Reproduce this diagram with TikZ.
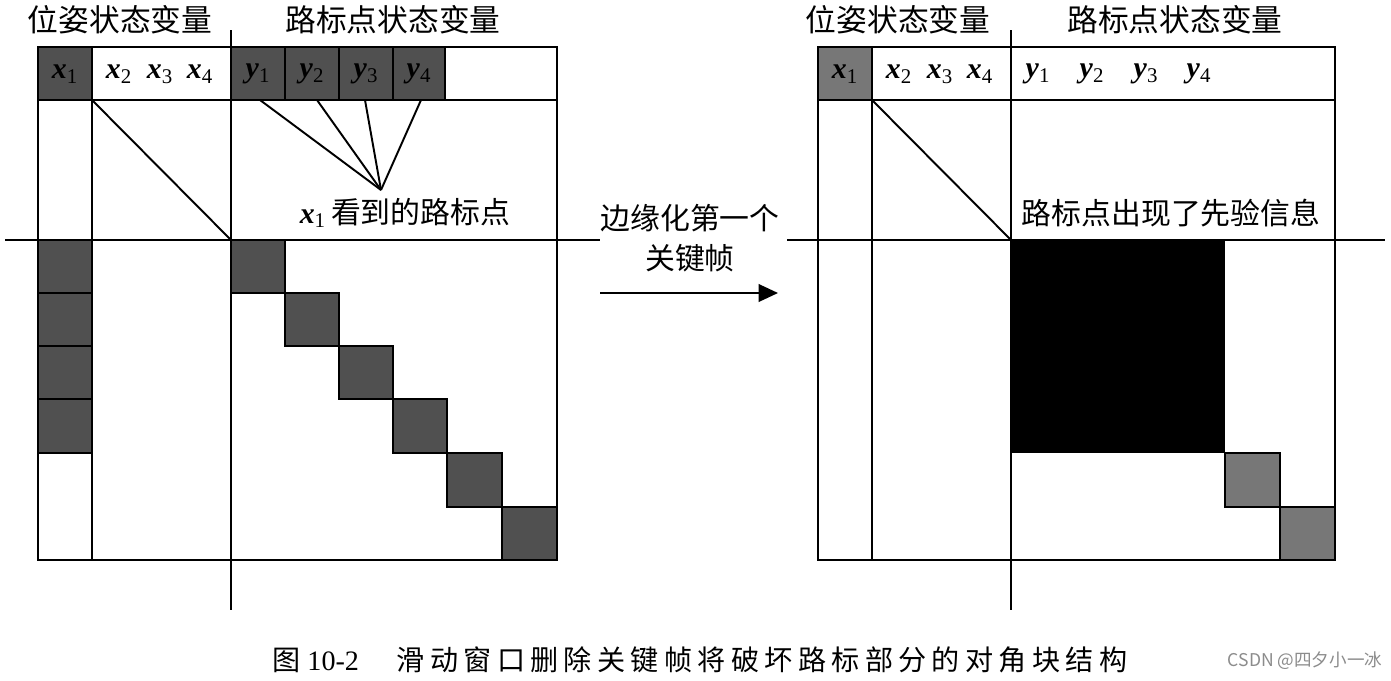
\documentclass[tikz,border=0pt]{standalone}
\usepackage{fontspec}
\setmainfont{Liberation Serif}
\newfontfamily\cjk{Noto Sans CJK SC}
\usepackage{xcolor}
\usepackage{tikz}
\usetikzlibrary{arrows.meta,positioning}
\definecolor{blkDark}{HTML}{505050}
\definecolor{blkMid}{HTML}{777777}
\definecolor{markGray}{HTML}{8C8C8C}
\newcommand{\sv}[2]{\textbf{\textit{#1}}\textsubscript{#2}}
\tikzset{
  grid/.style={line width=1.1pt, draw=black},
  cell/.style={fill=blkDark, draw=black, line width=1.5pt},
  cellmid/.style={fill=blkMid, draw=black, line width=1.5pt},
  head/.style={font=\cjk\fontsize{17.5}{20}\selectfont, inner sep=0pt},
  note/.style={font=\cjk\fontsize{17}{22.7}\selectfont, inner sep=0pt, align=center},
  var/.style={font=\fontsize{17}{20}\selectfont, inner sep=0pt},
  capline/.style={font=\fontsize{16}{20}\selectfont, inner sep=0pt},
  arrow/.style={-{Triangle[length=11pt,width=10pt]}, line width=1.1pt}
}

\begin{document}
\begin{tikzpicture}[x=0.02cm, y=-0.02cm]
\fill[white] (0,0) rectangle (1391,680);
\useasboundingbox (0,0) rectangle (1391,680);
% left panel: before marginalisation
\node[head] (hpose) at (120,20) {位姿状态变量};
\node[head] (hland) at (393,20) {路标点状态变量};
\draw[cell] (38,47) rectangle (92,100);
\draw[cell] (231,47) rectangle (285,100);
\draw[cell] (285,47) rectangle (339,100);
\draw[cell] (339,47) rectangle (393,100);
\draw[cell] (393,47) rectangle (445,100);
\draw[cell] (38,240) rectangle (92,293);
\draw[cell] (38,293) rectangle (92,346);
\draw[cell] (38,346) rectangle (92,399);
\draw[cell] (38,399) rectangle (92,453);
\draw[cell] (231,240) rectangle (285,293);
\draw[cell] (285,293) rectangle (339,346);
\draw[cell] (339,346) rectangle (393,399);
\draw[cell] (393,399) rectangle (447,453);
\draw[cell] (447,453) rectangle (502,507);
\draw[cell] (502,507) rectangle (557,560);
\draw[grid] (38,47) rectangle (557,560);
\draw[grid] (38,100) -- (557,100);
\draw[grid] (92,47) -- (92,560);
\draw[grid] (231,30) -- (231,610);
\draw[grid] (5,240) -- (600,240);
\draw[grid] (92,100) -- (231,240);
\node[var] (x1) at (65,74) {\sv{x}{1}};
\node[var] (x2) at (119,74) {\sv{x}{2}};
\node[var] (x3) at (160,74) {\sv{x}{3}};
\node[var] (x4) at (200,74) {\sv{x}{4}};
\node[var] (y1) at (258,74) {\sv{y}{1}};
\node[var] (y2) at (312,74) {\sv{y}{2}};
\node[var] (y3) at (366,74) {\sv{y}{3}};
\node[var] (y4) at (419,74) {\sv{y}{4}};
\coordinate (s1) at (260,100);
\coordinate (s2) at (317,100);
\coordinate (s3) at (365,100);
\coordinate (s4) at (421,100);
\coordinate (meet) at (381,190);
\draw[grid] (s1) -- (meet);
\draw[grid] (s2) -- (meet);
\draw[grid] (s3) -- (meet);
\draw[grid] (s4) -- (meet);
\node[note] (seen) at (405,213) {{\fontsize{17}{20}\selectfont\rmfamily\sv{x}{1}}\,看到的路标点};
% marginalise step
\node[note] (step) at (690,238) {边缘化第一个\\关键帧};
\coordinate (a0) at (600,293);
\coordinate (a1) at (778,293);
\draw[arrow] (a0) -- (a1);
% right panel: after marginalisation
\begin{scope}[shift={(780,0)}]
\node[head] (rhpose) at (118,20) {位姿状态变量};
\node[head] (rhland) at (395,20) {路标点状态变量};
\draw[cellmid] (38,47) rectangle (92,100);
\fill[black] (231,240) rectangle (445,453);
\draw[cellmid] (445,453) rectangle (500,507);
\draw[cellmid] (500,507) rectangle (555,560);
\draw[grid] (38,47) rectangle (555,560);
\draw[grid] (38,100) -- (555,100);
\draw[grid] (92,47) -- (92,560);
\draw[grid] (231,30) -- (231,610);
\draw[grid] (7,240) -- (605,240);
\draw[grid] (92,100) -- (231,240);
\node[var] (rx1) at (65,74) {\sv{x}{1}};
\node[var] (rx2) at (119,74) {\sv{x}{2}};
\node[var] (rx3) at (160,74) {\sv{x}{3}};
\node[var] (rx4) at (200,74) {\sv{x}{4}};
\node[var] (ry1) at (258,74) {\sv{y}{1}};
\node[var] (ry2) at (312,74) {\sv{y}{2}};
\node[var] (ry3) at (366,74) {\sv{y}{3}};
\node[var] (ry4) at (419,74) {\sv{y}{4}};
\node[note] (prior) at (391,213) {路标点出现了先验信息};
\end{scope}
% caption
\node[capline, anchor=west] (fig) at (272,660) {{\cjk 图}\ 10-2};
\node[capline, right=0.74cm of fig] (title) {\cjk\addfontfeature{LetterSpace=19}滑动窗口删除关键帧将破坏路标部分的对角块结构};
\node[font=\cjk\fontsize{10}{12}\selectfont, text=markGray, inner sep=0pt] (mark) at (1305,661) {CSDN @四夕小一冰};
\end{tikzpicture}
\end{document}
